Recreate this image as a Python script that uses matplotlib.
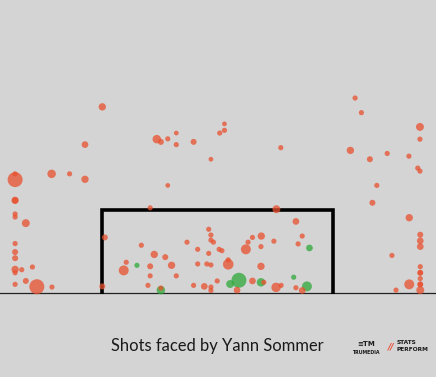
import matplotlib
matplotlib.use("Agg")
import matplotlib.pyplot as plt
import numpy as np

# Shot end locations on the goal plane (metres: y across the goal from left post, z height)
# and expected-goal style size values
red_y = [0.00, -0.55, 1.73, 1.86, 2.08, 2.35, 2.35, 2.90, 3.73, 3.88, 3.88, 3.45, 2.08, -1.04, -0.55,
         1.52, 5.67, 8.03, 8.23, 10.09, 10.09, 7.88, 8.50, 9.05, 9.74, 10.02, 10.09, 8.72, 8.58, 5.53,
         6.15, -1.61,
         -2.77, -2.77, -2.77, -2.77, -2.77, -2.77, -2.43, -2.77, -2.77, -2.77, -2.77, -2.77, -2.56, -2.22,
         -2.77, -2.43, -2.08, -1.60,
         0.08, 1.24, 1.65, 2.00, 2.69, 3.03, 3.38, 3.45, 3.45, 3.53, 3.71, 3.38, 0.76, 0.68, 1.52, 2.20,
         1.52, 2.35, 3.03, 3.32, 3.45, 1.45, 1.86, 0.00, 2.90, 3.24, 3.45, 3.45, 3.65,
         4.77, 5.05, 4.63, 5.45, 5.04, 6.35, 6.22, 3.80, 4.56, 4.00, 4.00, 5.04, 4.28, 4.77, 5.13, 5.52,
         5.68, 6.15, 6.35,
         9.75, 10.10, 10.10, 10.10, 9.20, 10.10, 10.10, 10.10, 10.10, 10.10, 10.10, 10.10, 9.75, 9.33]
red_z = [5.46, 4.35, 4.51, 4.43, 4.52, 4.69, 4.35, 4.43, 4.69, 4.96, 4.77, 3.92, 3.15, 3.49, 3.33,
         2.49, 4.26, 5.72, 5.29, 4.87, 4.51, 4.18, 3.92, 4.09, 4.01, 3.66, 3.57, 3.15, 2.64, 2.45,
         2.09, 3.49,
         3.32, 3.49, 2.71, 2.71, 2.31, 2.22, 2.04, 1.44, 1.19, 1.01, 0.68, 0.58, 0.67, 0.75,
         0.24, 0.34, 0.17, 0.16,
         1.62, 1.39, 1.12, 1.04, 1.48, 1.27, 1.86, 1.69, 1.54, 1.48, 1.27, 1.15, 0.89, 0.65, 0.77, 0.80,
         0.49, 0.49, 0.84, 0.84, 0.81, 0.21, 0.13, 0.18, 0.21, 0.18, 0.16, 0.06, 0.34,
         1.62, 1.66, 1.48, 1.51, 1.35, 1.66, 1.43, 1.23, 1.27, 0.96, 0.83, 0.77, 0.07, 0.34, 0.30, 0.15,
         0.21, 0.14, 0.06,
         2.20, 1.70, 1.52, 1.35, 1.09, 0.76, 0.58, 0.58, 0.41, 0.24, 0.24, 0.07, 0.24, 0.07]
red_xg = [0.12, 0.10, 0.16, 0.08, 0.06, 0.05, 0.06, 0.08, 0.06, 0.05, 0.06, 0.05, 0.05, 0.06, 0.12,
          0.06, 0.06, 0.06, 0.06, 0.14, 0.06, 0.12, 0.08, 0.06, 0.06, 0.06, 0.06, 0.06, 0.08, 0.14,
          0.10, 0.16,
          0.50, 0.06, 0.12, 0.08, 0.06, 0.06, 0.14, 0.06, 0.08, 0.08, 0.12, 0.06, 0.06, 0.06,
          0.06, 0.08, 0.50, 0.06,
          0.08, 0.06, 0.12, 0.08, 0.06, 0.06, 0.06, 0.06, 0.06, 0.06, 0.06, 0.06, 0.06, 0.22, 0.08, 0.12,
          0.06, 0.06, 0.06, 0.06, 0.06, 0.06, 0.06, 0.08, 0.06, 0.10, 0.06, 0.06, 0.06,
          0.06, 0.12, 0.06, 0.06, 0.06, 0.06, 0.06, 0.06, 0.22, 0.06, 0.25, 0.12, 0.10, 0.10, 0.06, 0.20,
          0.06, 0.06, 0.10,
          0.12, 0.08, 0.10, 0.10, 0.06, 0.06, 0.08, 0.06, 0.06, 0.08, 0.06, 0.14, 0.22, 0.06]

green_y = [1.10, 1.86, 6.58, 4.06, 4.34, 5.04, 6.08, 6.50]
green_z = [0.80, 0.07, 1.31, 0.25, 0.36, 0.30, 0.45, 0.18]
green_xg = [0.06, 0.16, 0.10, 0.14, 0.50, 0.16, 0.06, 0.22]

goal_width = 7.32
goal_height = 2.44
title = "Shots faced by Yann Sommer"

BG = "#d4d4d4"
RED = "#e8502e"
GREEN = "#2ea83a"

fig = plt.figure(figsize=(4.36, 3.77), dpi=100)
fig.patch.set_facecolor(BG)
ax = fig.add_axes([0, 0, 1, 1])
ax.set_facecolor(BG)
ax.set_xlim(-3.25, 10.60)
ax.set_ylim(-2.485, 8.603)
ax.axis("off")

size_scale = 233
ax.scatter(green_y, green_z, s=np.array(green_xg) * size_scale, color=GREEN, alpha=0.75,
           linewidths=0, zorder=3)
ax.scatter(red_y, red_z, s=np.array(red_xg) * size_scale, color=RED, alpha=0.75,
           linewidths=0, zorder=4)

# ground line and goal frame
ax.axhline(0, color="#222222", lw=0.9, zorder=2)
ax.plot([0, 0, goal_width, goal_width], [-0.055, goal_height, goal_height, -0.055],
        color="black", lw=2.6, solid_joinstyle="miter", solid_capstyle="butt", zorder=2)

fig.text(217 / 436, 1 - 351.5 / 377, title, ha="center", va="baseline",
         fontsize=11.9, family="Lato", color="#1a1a1a")

# logos
fig.text(366 / 436, 1 - 344 / 377, "≡TM", ha="center", va="center", fontsize=5.0,
         fontweight="bold", family="DejaVu Sans", color="#1a1a1a")
fig.text(366 / 436, 1 - 352 / 377, "TRUMEDIA", ha="center", va="center", fontsize=3.4,
         fontweight="bold", family="DejaVu Sans", color="#1a1a1a")
fig.text(391 / 436, 1 - 346.5 / 377, "//", ha="center", va="center", fontsize=6.5,
         fontweight="bold", family="DejaVu Sans", color="#ec4a2c", style="italic")
fig.text(396.5 / 436, 1 - 342.5 / 377, "STATS", ha="left", va="center", fontsize=4.2,
         fontweight="bold", family="DejaVu Sans", color="#1a1a1a")
fig.text(396.5 / 436, 1 - 349.5 / 377, "PERFORM", ha="left", va="center", fontsize=4.2,
         fontweight="bold", family="DejaVu Sans", color="#1a1a1a")

fig.savefig("out.png", dpi=100, facecolor=BG)
